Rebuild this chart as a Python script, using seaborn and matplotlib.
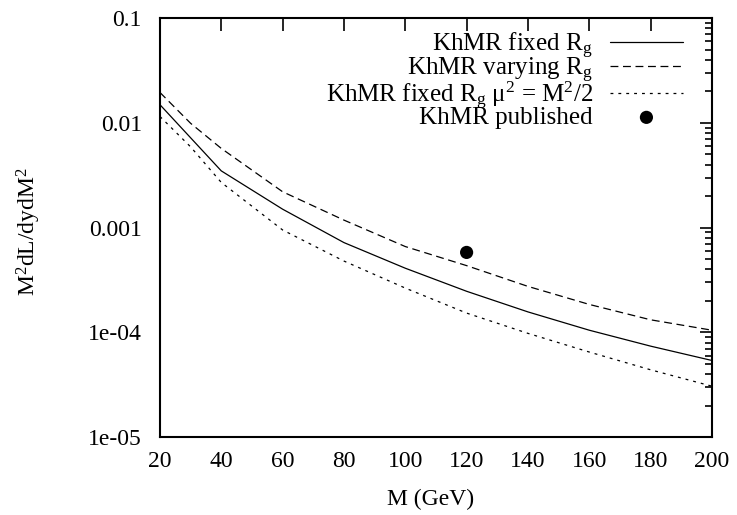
import numpy as np
import pandas as pd
import matplotlib
matplotlib.use("Agg")
import matplotlib.pyplot as plt
import seaborn as sns

# values (M in GeV)
mass_fixed = [20, 40, 60, 80, 100, 120, 140, 160, 180, 200]
lum_fixed = [0.0149, 0.00348, 0.0015, 0.00072, 0.00041, 0.000247, 0.000157, 0.000105, 7.4e-5, 5.4e-5]

mass_vary = [20, 30, 40, 60, 80, 100, 120, 140, 160, 180, 200]
lum_vary = [0.0195, 0.0099, 0.0057, 0.0022, 0.00118, 0.00066, 0.000434, 0.000275, 0.000185, 0.000132, 0.000105]

mass_mu = [20, 30, 40, 60, 80, 100, 120, 140, 160, 180, 200]
lum_mu = [0.0115, 0.0059, 0.0027, 0.00095, 0.00048, 0.000265, 0.000153, 9.8e-5, 6.5e-5, 4.4e-5, 3.07e-5]

mass_pub = [120]
lum_pub = [0.00058]

labels = [
    r"KhMR fixed R$_\mathregular{g}$",
    r"KhMR varying R$_\mathregular{g}$",
    r"KhMR fixed R$_\mathregular{g}$ μ$^\mathregular{2}$ = M$^\mathregular{2}$/2",
    "KhMR published",
]
ytick_vals = [1e-5, 1e-4, 1e-3, 1e-2, 1e-1]
ytick_labels = ["1e-05", "1e-04", "0.001", "0.01", "0.1"]
xtick_vals = [20, 40, 60, 80, 100, 120, 140, 160, 180, 200]

sns.set_style("white")
plt.rcParams["font.family"] = ["Liberation Serif", "DejaVu Serif"]
plt.rcParams["mathtext.fontset"] = "custom"
plt.rcParams["mathtext.rm"] = "Liberation Serif"
plt.rcParams["mathtext.it"] = "Liberation Serif:italic"
plt.rcParams["font.size"] = 17
plt.rcParams["text.color"] = "black"
plt.rcParams["axes.labelcolor"] = "black"

fig = plt.figure(figsize=(7.37, 5.15), dpi=100)
ax = fig.add_axes([0.217, 0.151, 0.749, 0.814])

sns.lineplot(x=mass_fixed, y=lum_fixed, ax=ax, color="black", lw=0.9, label=labels[0])
sns.lineplot(x=mass_vary, y=lum_vary, ax=ax, color="black", lw=0.9, label=labels[1]).lines[-1].set_dashes([6.3, 3.7])
sns.lineplot(x=mass_mu, y=lum_mu, ax=ax, color="black", lw=0.9, label=labels[2]).lines[-1].set_dashes([2.3, 4])
sns.scatterplot(x=mass_pub, y=lum_pub, ax=ax, color="black", s=90, edgecolor="none", label=labels[3])

ax.set_yscale("log")
ax.set_xlim(20, 200)
ax.set_ylim(1e-5, 0.1)
ax.set_xticks(xtick_vals)
ax.set_xticklabels([str(v) for v in xtick_vals])
ax.set_yticks(ytick_vals)
ax.set_yticklabels(ytick_labels)
ax.yaxis.set_minor_locator(matplotlib.ticker.LogLocator(base=10, subs=np.arange(2, 10)))
ax.yaxis.set_minor_formatter(matplotlib.ticker.NullFormatter())

ax.tick_params(which="both", direction="in", top=True, right=True, width=1.2,
               colors="black", labelsize=17)
ax.tick_params(which="major", length=9)
ax.tick_params(which="minor", length=5)
ax.tick_params(axis="x", which="major", pad=10)
ax.tick_params(axis="y", which="major", pad=13)
for sp in ax.spines.values():
    sp.set_linewidth(1.5)
    sp.set_color("black")

ax.set_xlabel("M (GeV)", fontsize=17)
ax.set_ylabel(r"M$^\mathregular{2}$dL/dydM$^\mathregular{2}$", fontsize=17)
ax.xaxis.set_label_coords(0.49, -0.122)
ax.yaxis.set_label_coords(-0.212, 0.49)

leg = ax.legend(loc="upper right", bbox_to_anchor=(0.9565, 0.982), frameon=False,
                markerfirst=False, fontsize=18, handlelength=2.92, labelspacing=-0.21,
                borderaxespad=0, handletextpad=0.68, borderpad=0.2)

fig.savefig("out.png", dpi=100)
